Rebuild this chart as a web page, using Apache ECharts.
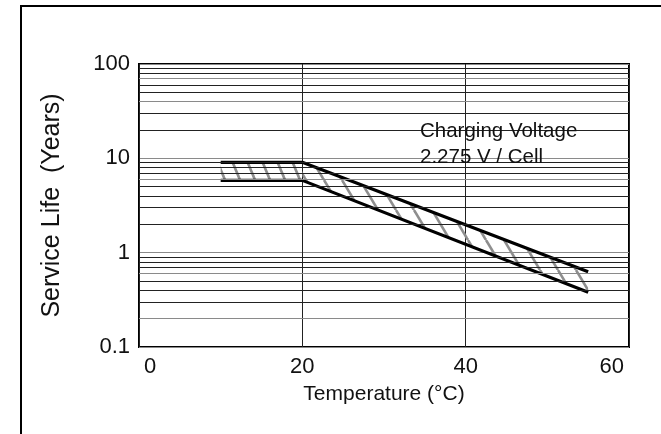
<!DOCTYPE html>
<html>
<head>
<meta charset="utf-8">
<script src="https://cdn.jsdelivr.net/npm/echarts@6/dist/echarts.min.js"></script>
<style>
  html, body { margin: 0; padding: 0; background: #fff; }
  #chart { width: 661px; height: 434px; }
</style>
</head>
<body>
<div id="chart"></div>
<script>
// ---- data ----
const tempC = [10, 20, 55];
const lifeUpper = [9.07, 9.07, 0.628];
const lifeLower = [5.84, 5.84, 0.38];
const xTicks = [0, 20, 40, 60];
const yTickLabels = ['0.1', '1', '10', '100'];
const minorGridDark = [0.3, 0.4, 0.5, 0.7, 0.8, 0.9, 2, 3, 4, 5, 7, 8, 9, 20, 30, 50, 60, 80, 90];
const minorGridGray = [0.2, 0.6, 6, 40, 70];
const annotation = ['Charging Voltage', '2.275 V / Cell'];

const FONT = '"Liberation Sans", Arial, Helvetica, sans-serif';

function makeHatch(p, h, color, lw) {
  const c = document.createElement('canvas');
  c.width = p; c.height = h;
  const ctx = c.getContext('2d');
  ctx.strokeStyle = color; ctx.lineWidth = lw;
  for (let k = -1; k <= 1; k++) {
    ctx.beginPath();
    ctx.moveTo(k * p, 0);
    ctx.lineTo(k * p + p, h);
    ctx.stroke();
  }
  return c;
}
const hatchPatterns = [makeHatch(15, 36, '#8e8e8e', 2.6), makeHatch(18, 30, '#8e8e8e', 2.6)];

const segments = tempC.slice(0, -1).map((t, i) =>
  [t, tempC[i + 1], lifeUpper[i], lifeUpper[i + 1], lifeLower[i], lifeLower[i + 1]]);

const chart = echarts.init(document.getElementById('chart'), null, { renderer: 'canvas' });
chart.setOption({
  backgroundColor: '#fff',
  animation: false,
  grid: { left: 139, right: 32, top: 64, bottom: 87, show: true, borderColor: '#000', borderWidth: 2, backgroundColor: 'transparent' },
  graphic: [
    { type: 'rect', silent: true, z: -10, shape: { x: 21, y: 6, width: 800, height: 600 }, style: { fill: 'none', stroke: '#000', lineWidth: 2 } },
    { type: 'text', silent: true, z: 100, left: 420, top: 118,
      style: { text: annotation.join('\n'), font: '20.5px ' + FONT, fill: '#111', lineHeight: 26 } }
  ],
  xAxis: {
    type: 'value', min: xTicks[0], max: xTicks[xTicks.length - 1], interval: 20,
    axisLine: { show: false }, axisTick: { show: false },
    splitLine: { show: true, lineStyle: { color: '#222', width: 1 } },
    axisLabel: { fontSize: 22, fontFamily: FONT, color: '#111', margin: 9, alignMinLabel: 'left', alignMaxLabel: 'right', padding: [0, 5, 0, 5] },
    name: 'Temperature (°C)', nameLocation: 'middle', nameGap: 37,
    nameTextStyle: { fontSize: 21, fontFamily: FONT, color: '#111' }
  },
  yAxis: {
    type: 'log', logBase: 10, min: 0.1, max: 100,
    axisLine: { show: false }, axisTick: { show: false },
    splitLine: { show: true, lineStyle: { color: '#8a8a8a', width: 1 } },
    axisLabel: { fontSize: 22, fontFamily: FONT, color: '#111', margin: 9,
      formatter: (v, i) => yTickLabels[i] !== undefined ? yTickLabels[i] : String(v) },
    name: 'Service Life  (Years)', nameLocation: 'middle', nameGap: 74,
    nameTextStyle: { fontSize: 25, fontFamily: FONT, color: '#111' }
  },
  series: [
    {
      type: 'line', name: 'grid', data: [], silent: true, z: 1,
      markLine: {
        silent: true, symbol: 'none', animation: false, label: { show: false },
        data: minorGridDark.map(v => ({ yAxis: v, lineStyle: { color: '#222', width: 1, type: 'solid' } }))
          .concat(minorGridGray.map(v => ({ yAxis: v, lineStyle: { color: '#8a8a8a', width: 1, type: 'solid' } })))
      }
    },
    {
      type: 'custom', name: 'band', z: 2, silent: true,
      encode: { x: [0, 1], y: [2, 3, 4, 5] },
      data: segments,
      renderItem: (params, api) => {
        const x0 = api.value(0), x1 = api.value(1);
        const pts = [
          api.coord([x0, api.value(2)]), api.coord([x1, api.value(3)]),
          api.coord([x1, api.value(5)]), api.coord([x0, api.value(4)])
        ];
        return { type: 'polygon', shape: { points: pts },
          style: { fill: { image: hatchPatterns[params.dataIndex], repeat: 'repeat' }, stroke: null } };
      }
    },
    {
      type: 'line', name: 'upper', z: 3, symbol: 'none', silent: true,
      data: tempC.map((t, i) => [t, lifeUpper[i]]),
      lineStyle: { color: '#000', width: 3.2 }
    },
    {
      type: 'line', name: 'lower', z: 3, symbol: 'none', silent: true,
      data: tempC.map((t, i) => [t, lifeLower[i]]),
      lineStyle: { color: '#000', width: 3.2 }
    }
  ]
});
</script>
</body>
</html>
